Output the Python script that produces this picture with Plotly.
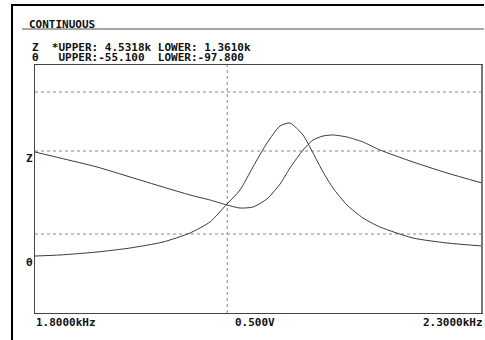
import plotly.graph_objects as go

# ---- data ----
freq_hz = [1800.0, 1828.0, 1869.4, 1906.3, 1943.2, 1973.4, 1995.7, 2014.8, 2029.3,
           2043.8, 2059.5, 2074.1, 2085.2, 2099.8, 2111.0, 2122.2, 2133.3, 2149.0,
           2166.9, 2185.9, 2222.8, 2260.9, 2300.0]
z_kohm = [3.419, 3.343, 3.228, 3.100, 2.972, 2.870, 2.806, 2.742, 2.703,
          2.716, 2.819, 3.010, 3.215, 3.445, 3.573, 3.624, 3.637, 3.611,
          3.547, 3.445, 3.292, 3.151, 3.023]
theta_deg = [-87.99, -87.81, -87.30, -86.61, -85.58, -84.03, -82.13, -79.03, -76.62,
             -72.66, -68.53, -65.60, -65.09, -67.15, -70.25, -73.52, -76.28, -79.21,
             -81.44, -82.99, -84.89, -85.75, -86.26]

z_upper, z_lower = 4.5318, 1.3610
theta_upper, theta_lower = -55.100, -97.800
freq_start, freq_stop = 1800.0, 2300.0
grid_z = [4.187, 3.432, 2.371]
cursor_freq = 2015.0

title_text = "CONTINUOUS"
line1_text = "Z  *UPPER: 4.5318k LOWER: 1.3610k"
line2_text = "θ   UPPER:-55.100  LOWER:-97.800"
start_label = "1.8000kHz"
level_label = "0.500V"
stop_label = "2.3000kHz"

# ---- layout geometry (pixels) ----
W, H = 485, 340
L, R, T, B = 35, 482, 65, 313
pw, ph = R - L, B - T


def px(X):
    return (X - L) / pw


def py(Y):
    return (B - Y) / ph


FONT = dict(family="DejaVu Sans Mono", size=11, color="#111111", weight="bold")

fig = go.Figure()
fig.add_trace(go.Scatter(x=freq_hz, y=z_kohm, mode="lines", yaxis="y",
                         line=dict(color="#3a3a3a", width=1, shape="spline", smoothing=0.6),
                         hoverinfo="skip", showlegend=False))
fig.add_trace(go.Scatter(x=freq_hz, y=theta_deg, mode="lines", yaxis="y2",
                         line=dict(color="#3a3a3a", width=1, shape="spline", smoothing=0.6),
                         hoverinfo="skip", showlegend=False))

shapes = []
for g in grid_z:
    shapes.append(dict(type="line", xref="paper", yref="y", x0=0, x1=1, y0=g, y1=g,
                       line=dict(color="#888888", width=1, dash="dot"), layer="below"))
shapes.append(dict(type="line", xref="x", yref="paper", x0=cursor_freq, x1=cursor_freq,
                   y0=0, y1=1, line=dict(color="#888888", width=1, dash="dot"), layer="below"))
# outer instrument frame
shapes.append(dict(type="line", xref="paper", yref="paper", x0=px(11), x1=px(484),
                   y0=py(5), y1=py(5), line=dict(color="#000000", width=2)))
shapes.append(dict(type="line", xref="paper", yref="paper", x0=px(12), x1=px(12),
                   y0=py(4), y1=py(341), line=dict(color="#000000", width=2)))
# separator under title
shapes.append(dict(type="line", xref="paper", yref="paper", x0=px(22), x1=px(484),
                   y0=py(29), y1=py(29), line=dict(color="#8a8a8a", width=1.5)))
# right edge of plot box (thicker gray)
shapes.append(dict(type="line", xref="paper", yref="paper", x0=px(482), x1=px(482),
                   y0=py(65), y1=py(313), line=dict(color="#777777", width=2)))

annotations = [
    dict(text=title_text, x=px(28), y=py(24), xanchor="left", yanchor="middle"),
    dict(text=line1_text, x=px(31), y=py(48), xanchor="left", yanchor="middle"),
    dict(text=line2_text, x=px(31), y=py(57), xanchor="left", yanchor="middle"),
    dict(text="Z", x=px(34), y=py(158), xanchor="right", yanchor="middle"),
    dict(text="θ", x=px(34), y=py(262), xanchor="right", yanchor="middle"),
    dict(text=start_label, x=px(35), y=py(322), xanchor="left", yanchor="middle"),
    dict(text=level_label, x=px(255), y=py(322), xanchor="center", yanchor="middle"),
    dict(text=stop_label, x=px(484), y=py(322), xanchor="right", yanchor="middle"),
]
for a in annotations:
    a.update(xref="paper", yref="paper", showarrow=False, font=FONT, borderpad=0)

fig.update_layout(
    width=W, height=H,
    margin=dict(l=L, r=W - R, t=T, b=H - B, pad=0),
    paper_bgcolor="white", plot_bgcolor="white",
    xaxis=dict(range=[freq_start, freq_stop], showgrid=False, zeroline=False,
               showticklabels=False, ticks="", showline=True, mirror=True,
               linecolor="#444444", linewidth=1),
    yaxis=dict(range=[z_lower, z_upper], showgrid=False, zeroline=False,
               showticklabels=False, ticks="", showline=True, mirror=True,
               linecolor="#444444", linewidth=1),
    yaxis2=dict(range=[theta_lower, theta_upper], overlaying="y", showgrid=False,
                zeroline=False, showticklabels=False, ticks="", showline=False),
    shapes=shapes, annotations=annotations,
)

fig.write_html("out.html", config={"displayModeBar": False},
               post_script="document.body.style.margin='0';document.body.style.overflow='hidden';")
